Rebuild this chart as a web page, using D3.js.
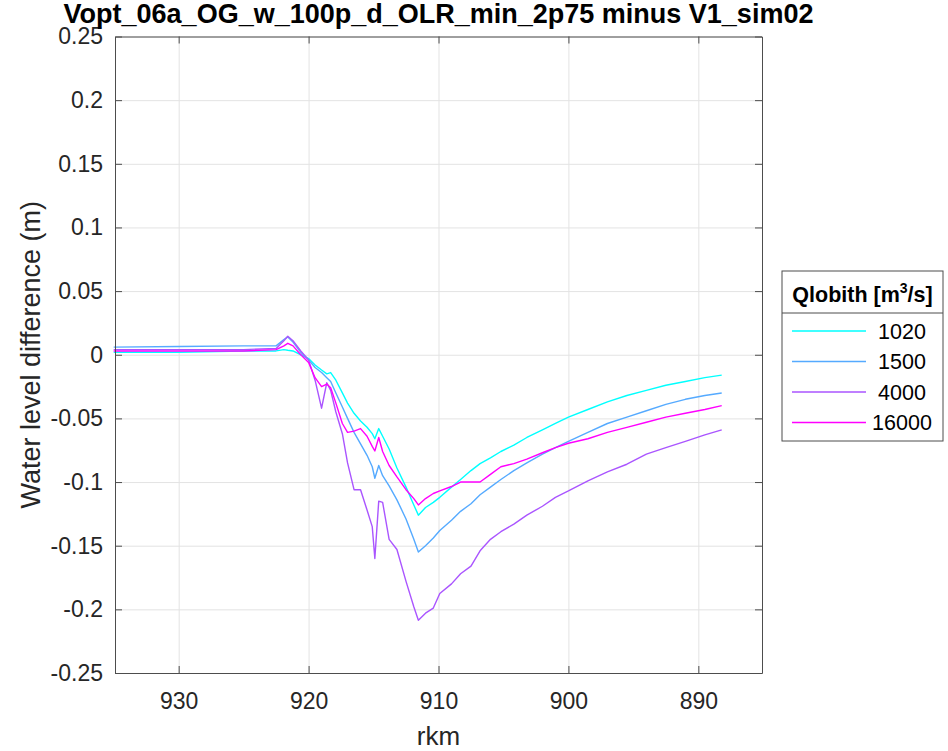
<!DOCTYPE html>
<html>
<head>
<meta charset="utf-8">
<script src="https://cdn.jsdelivr.net/npm/d3@7"></script>
<style>
  body { margin: 0; background: #fff; }
  svg { font-family: "Liberation Sans", Arial, sans-serif; }
  .grid line { stroke: #e3e3e3; stroke-width: 1; }
  .grid path { display: none; }
  .axis path, .axis line { stroke: #4d4d4d; }
  .axis text { fill: #262626; font-size: 23px; }
</style>
</head>
<body>
<svg width="948" height="751"></svg>
<script>
// river km (shared grid)
const rkm = [935, 930, 925, 922.5, 921.9, 921.6, 921.2, 920.6, 920.0, 919.5,
  919.0, 918.6, 918.3, 917.9, 917.4, 917.0, 916.5, 916.0, 915.5, 915.1,
  914.9, 914.6, 914.3, 913.8, 913.2, 912.5, 911.9, 911.55, 911.0, 910.4,
  909.9, 909.0, 908.3, 907.5, 906.8, 906.0, 905.2, 904.2, 903.2, 902.0,
  901.0, 900.0, 898.5, 897.0, 895.5, 894.0, 892.5, 891.0, 889.5, 888.2];

const wl1020 = [0.002, 0.002, 0.003, 0.003, 0.004, 0.0035, 0.003, 0.000, -0.003, -0.008,
  -0.012, -0.015, -0.014, -0.020, -0.030, -0.038, -0.046, -0.052, -0.057, -0.062,
  -0.066, -0.058, -0.064, -0.074, -0.089, -0.104, -0.118, -0.126, -0.120, -0.116,
  -0.112, -0.104, -0.098, -0.091, -0.0855, -0.081, -0.076, -0.071, -0.065, -0.059,
  -0.054, -0.049, -0.043, -0.037, -0.032, -0.028, -0.024, -0.021, -0.018, -0.016];

const wl1500 = [0.006, 0.0065, 0.007, 0.007, 0.012, 0.014, 0.010, 0.002, -0.004, -0.010,
  -0.014, -0.018, -0.021, -0.030, -0.041, -0.050, -0.061, -0.070, -0.079, -0.088,
  -0.097, -0.087, -0.095, -0.103, -0.114, -0.129, -0.145, -0.155, -0.150, -0.144,
  -0.138, -0.130, -0.123, -0.117, -0.110, -0.104, -0.098, -0.091, -0.085, -0.078,
  -0.073, -0.068, -0.061, -0.054, -0.049, -0.044, -0.039, -0.035, -0.032, -0.030];

const wl4000 = [0.004, 0.004, 0.004, 0.005, 0.011, 0.0145, 0.011, 0.003, -0.004, -0.020,
  -0.042, -0.022, -0.028, -0.045, -0.062, -0.085, -0.106, -0.106, -0.122, -0.135,
  -0.160, -0.115, -0.116, -0.145, -0.153, -0.178, -0.198, -0.2086, -0.203, -0.199,
  -0.1876, -0.180, -0.172, -0.166, -0.154, -0.145, -0.139, -0.133, -0.126, -0.119,
  -0.112, -0.107, -0.099, -0.092, -0.086, -0.078, -0.073, -0.068, -0.063, -0.059];

const wl16000 = [0.003, 0.003, 0.003, 0.004, 0.007, 0.009, 0.007, 0.000, -0.006, -0.018,
  -0.025, -0.023, -0.026, -0.038, -0.054, -0.061, -0.060, -0.058, -0.064, -0.072,
  -0.0756, -0.065, -0.076, -0.087, -0.096, -0.106, -0.113, -0.118, -0.113, -0.109,
  -0.107, -0.1035, -0.100, -0.100, -0.100, -0.094, -0.088, -0.0855, -0.082, -0.077,
  -0.073, -0.0695, -0.066, -0.061, -0.057, -0.053, -0.049, -0.046, -0.043, -0.040];

const seriesNames = ["1020", "1500", "4000", "16000"];
const seriesColors = ["#00ffff", "#55aaff", "#aa55ff", "#ff00ff"];
const seriesValues = [wl1020, wl1500, wl4000, wl16000];

const xTicks = [930, 920, 910, 900, 890];
const yTicks = [-0.25, -0.2, -0.15, -0.1, -0.05, 0, 0.05, 0.1, 0.15, 0.2, 0.25];

const svg = d3.select("svg");
svg.append("rect").attr("width", 948).attr("height", 751).attr("fill", "#fff");

const pLeft = 115, pRight = 762, pTop = 36.5, pBottom = 673;
const w = pRight - pLeft, h = pBottom - pTop;

const x = d3.scaleLinear().domain([934.9, 885.1]).range([pLeft, pRight]);
const y = d3.scaleLinear().domain([-0.25, 0.25]).range([pBottom, pTop]);

const fmt = d => String(+d.toFixed(2));

// grid
svg.append("g").attr("class", "grid")
    .attr("transform", `translate(0,${pBottom})`)
    .call(d3.axisBottom(x).tickValues(xTicks).tickSize(-h).tickFormat(""));
svg.append("g").attr("class", "grid")
    .attr("transform", `translate(${pLeft},0)`)
    .call(d3.axisLeft(y).tickValues(yTicks).tickSize(-w).tickFormat(""));

// lines
const line = d3.line().x((d, i) => x(rkm[i])).y(d => y(d));
seriesValues.forEach((vals, k) => {
    svg.append("path")
        .attr("d", line(vals))
        .attr("fill", "none")
        .attr("stroke", seriesColors[k])
        .attr("stroke-width", 1.4)
        .attr("stroke-linejoin", "round");
});

// axes (box with inward ticks)
svg.append("g").attr("class", "axis")
    .attr("transform", `translate(0,${pBottom})`)
    .call(d3.axisBottom(x).tickValues(xTicks).tickSizeInner(-7).tickSizeOuter(0).tickPadding(20));
svg.append("g").attr("class", "axis")
    .attr("transform", `translate(0,${pTop})`)
    .call(d3.axisTop(x).tickValues(xTicks).tickSizeInner(-7).tickSizeOuter(0).tickFormat(""));
svg.append("g").attr("class", "axis")
    .attr("transform", `translate(${pLeft},0)`)
    .call(d3.axisLeft(y).tickValues(yTicks).tickSizeInner(-7).tickSizeOuter(0).tickPadding(12).tickFormat(fmt));
svg.append("g").attr("class", "axis")
    .attr("transform", `translate(${pRight},0)`)
    .call(d3.axisRight(y).tickValues(yTicks).tickSizeInner(-7).tickSizeOuter(0).tickFormat(""));

// title and labels
svg.append("text")
    .attr("x", (pLeft + pRight) / 2).attr("y", 23)
    .attr("text-anchor", "middle")
    .attr("font-size", 27).attr("font-weight", "bold").attr("fill", "#000")
    .text("Vopt_06a_OG_w_100p_d_OLR_min_2p75 minus V1_sim02");

svg.append("text")
    .attr("x", (pLeft + pRight) / 2).attr("y", 745)
    .attr("text-anchor", "middle")
    .attr("font-size", 26).attr("fill", "#262626")
    .text("rkm");

svg.append("text")
    .attr("transform", `translate(40,${(pTop + pBottom) / 2}) rotate(-90)`)
    .attr("text-anchor", "middle")
    .attr("font-size", 27).attr("fill", "#262626")
    .text("Water level difference (m)");

// legend
const lg = svg.append("g");
lg.append("rect")
    .attr("x", 782).attr("y", 271).attr("width", 161).attr("height", 170)
    .attr("fill", "#fff").attr("stroke", "#4d4d4d").attr("stroke-width", 1);
lg.append("line")
    .attr("x1", 782).attr("x2", 943).attr("y1", 313).attr("y2", 313)
    .attr("stroke", "#4d4d4d");
const lt = lg.append("text")
    .attr("x", 862.5).attr("y", 302)
    .attr("text-anchor", "middle")
    .attr("font-size", 21.5).attr("font-weight", "bold").attr("fill", "#000");
lt.append("tspan").text("Qlobith [m");
lt.append("tspan").attr("dy", -9).attr("font-size", 14).text("3");
lt.append("tspan").attr("dy", 9).text("/s]");

seriesNames.forEach((name, k) => {
    const yy = 331 + k * 30.5;
    lg.append("line")
        .attr("x1", 792).attr("x2", 866).attr("y1", yy).attr("y2", yy)
        .attr("stroke", seriesColors[k]).attr("stroke-width", 1.4);
    lg.append("text")
        .attr("x", 902).attr("y", yy + 7.5)
        .attr("text-anchor", "middle")
        .attr("font-size", 21.5).attr("fill", "#000")
        .text(name);
});
</script>
</body>
</html>
